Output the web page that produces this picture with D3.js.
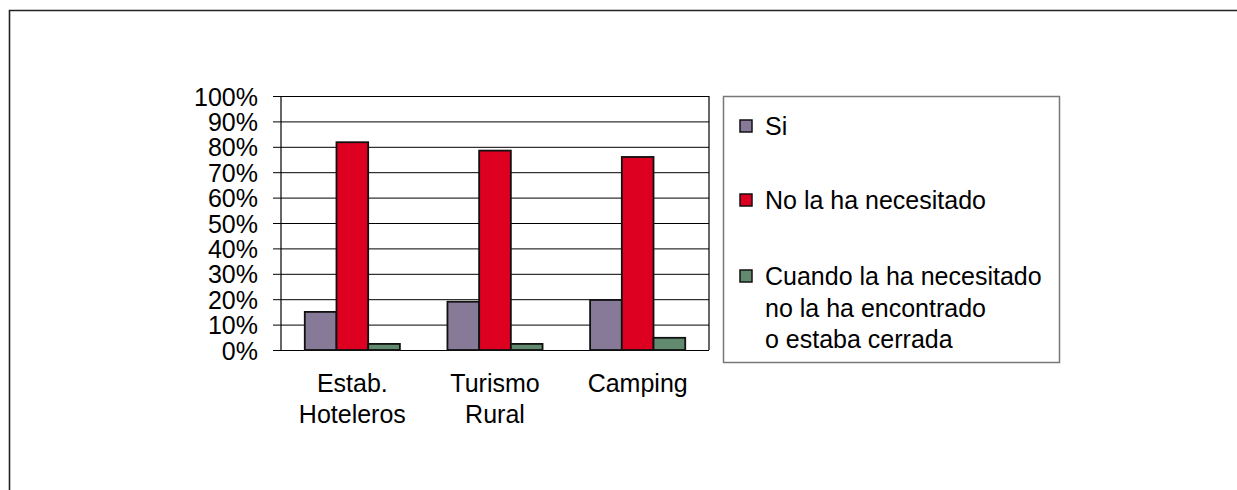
<!DOCTYPE html>
<html><head><meta charset="utf-8">
<script src="https://cdn.jsdelivr.net/npm/d3@7"></script>
<style>body{margin:0;background:#fff}svg{display:block}text{font-family:"Liberation Sans",Arial,sans-serif;fill:#000}</style>
</head><body>
<script>
const categories = [["Estab.","Hoteleros"],["Turismo","Rural"],["Camping"]];
const seriesNames = [["Si"],["No la ha necesitado"],["Cuando la ha necesitado","no la ha encontrado","o estaba cerrada"]];
const seriesColors = ["#877A98","#DE0021","#628A6E"];
const siValues = [15, 19, 19.7];
const noNecValues = [81.8, 78.5, 76];
const noEncValues = [2.4, 2.4, 4.8];
const tickValues = [0,10,20,30,40,50,60,70,80,90,100];
const series = [siValues, noNecValues, noEncValues];

const W = 1237, H = 490;
const FS = 25;
const svg = d3.select("body").append("svg").attr("width", W).attr("height", H);

// outer frame
svg.append("path").attr("d", `M9.5,${H+2} V10.5 H${W+2}`).attr("fill","none").attr("stroke","#222").attr("stroke-width",1.6);

const m = {left:281, right:709, top:96, bottom:350};
const x0 = d3.scaleBand().domain(d3.range(categories.length)).range([m.left, m.right]).paddingInner(0).paddingOuter(0);
const y = d3.scaleLinear().domain([0,100]).range([m.bottom, m.top]);

// gridlines and ticks
const yAxis = d3.axisLeft(y).tickValues(tickValues).tickSize(-(m.right - m.left)).tickFormat(d => d + "%").tickPadding(23);
const gy = svg.append("g").attr("transform", `translate(${m.left},0)`).call(yAxis);
gy.select(".domain").remove();
gy.selectAll(".tick line").attr("stroke","#000").attr("stroke-width",1).attr("x1",-8);
gy.selectAll(".tick text").attr("font-size",FS).attr("font-family","'Liberation Sans',Arial,sans-serif").attr("fill","#000").attr("dy","0.36em");

// plot borders
svg.append("line").attr("x1",m.left).attr("x2",m.left).attr("y1",m.top).attr("y2",m.bottom).attr("stroke","#000").attr("stroke-width",1.2);
svg.append("line").attr("x1",m.right).attr("x2",m.right).attr("y1",m.top).attr("y2",m.bottom).attr("stroke","#000").attr("stroke-width",1.2);

// bars
const bw = x0.bandwidth() / 4.5;
const x1 = d3.scaleBand().domain(d3.range(series.length)).range([0, bw*3]);
const groups = svg.append("g").selectAll("g").data(categories).join("g")
  .attr("transform", (d,i) => `translate(${x0(i) + (x0.bandwidth() - bw*3)/2},0)`);
groups.selectAll("rect").data((d,i) => series.map((s,k) => ({k, v:s[i]}))).join("rect")
  .attr("x", d => x1(d.k)).attr("width", x1.bandwidth())
  .attr("y", d => y(d.v)).attr("height", d => y(0) - y(d.v))
  .attr("fill", d => seriesColors[d.k]).attr("stroke","#111").attr("stroke-width",1.8);

// x labels
groups.each(function(d,i){
  const t = d3.select(this).append("text").attr("text-anchor","middle").attr("font-size",FS)
    .attr("x", bw*1.5).attr("y", 392);
  d.forEach((line,j) => t.append("tspan").attr("x", bw*1.5).attr("dy", j===0?0:31).text(line));
});

// legend
const lg = svg.append("g");
lg.append("rect").attr("x",723.5).attr("y",96.5).attr("width",336).attr("height",266).attr("fill","#fff").attr("stroke","#777").attr("stroke-width",1.5);
const legY = [126, 200, 276];
seriesNames.forEach((lines,k) => {
  lg.append("rect").attr("x",740).attr("y",legY[k]-6).attr("width",12).attr("height",12)
    .attr("fill",seriesColors[k]).attr("stroke","#111").attr("stroke-width",1.5);
  const t = lg.append("text").attr("font-size",FS).attr("x",765).attr("y",legY[k]);
  lines.forEach((line,j) => t.append("tspan").attr("x",765).attr("dy", j===0?"0.36em":31.5).text(line));
});
</script>
</body></html>
